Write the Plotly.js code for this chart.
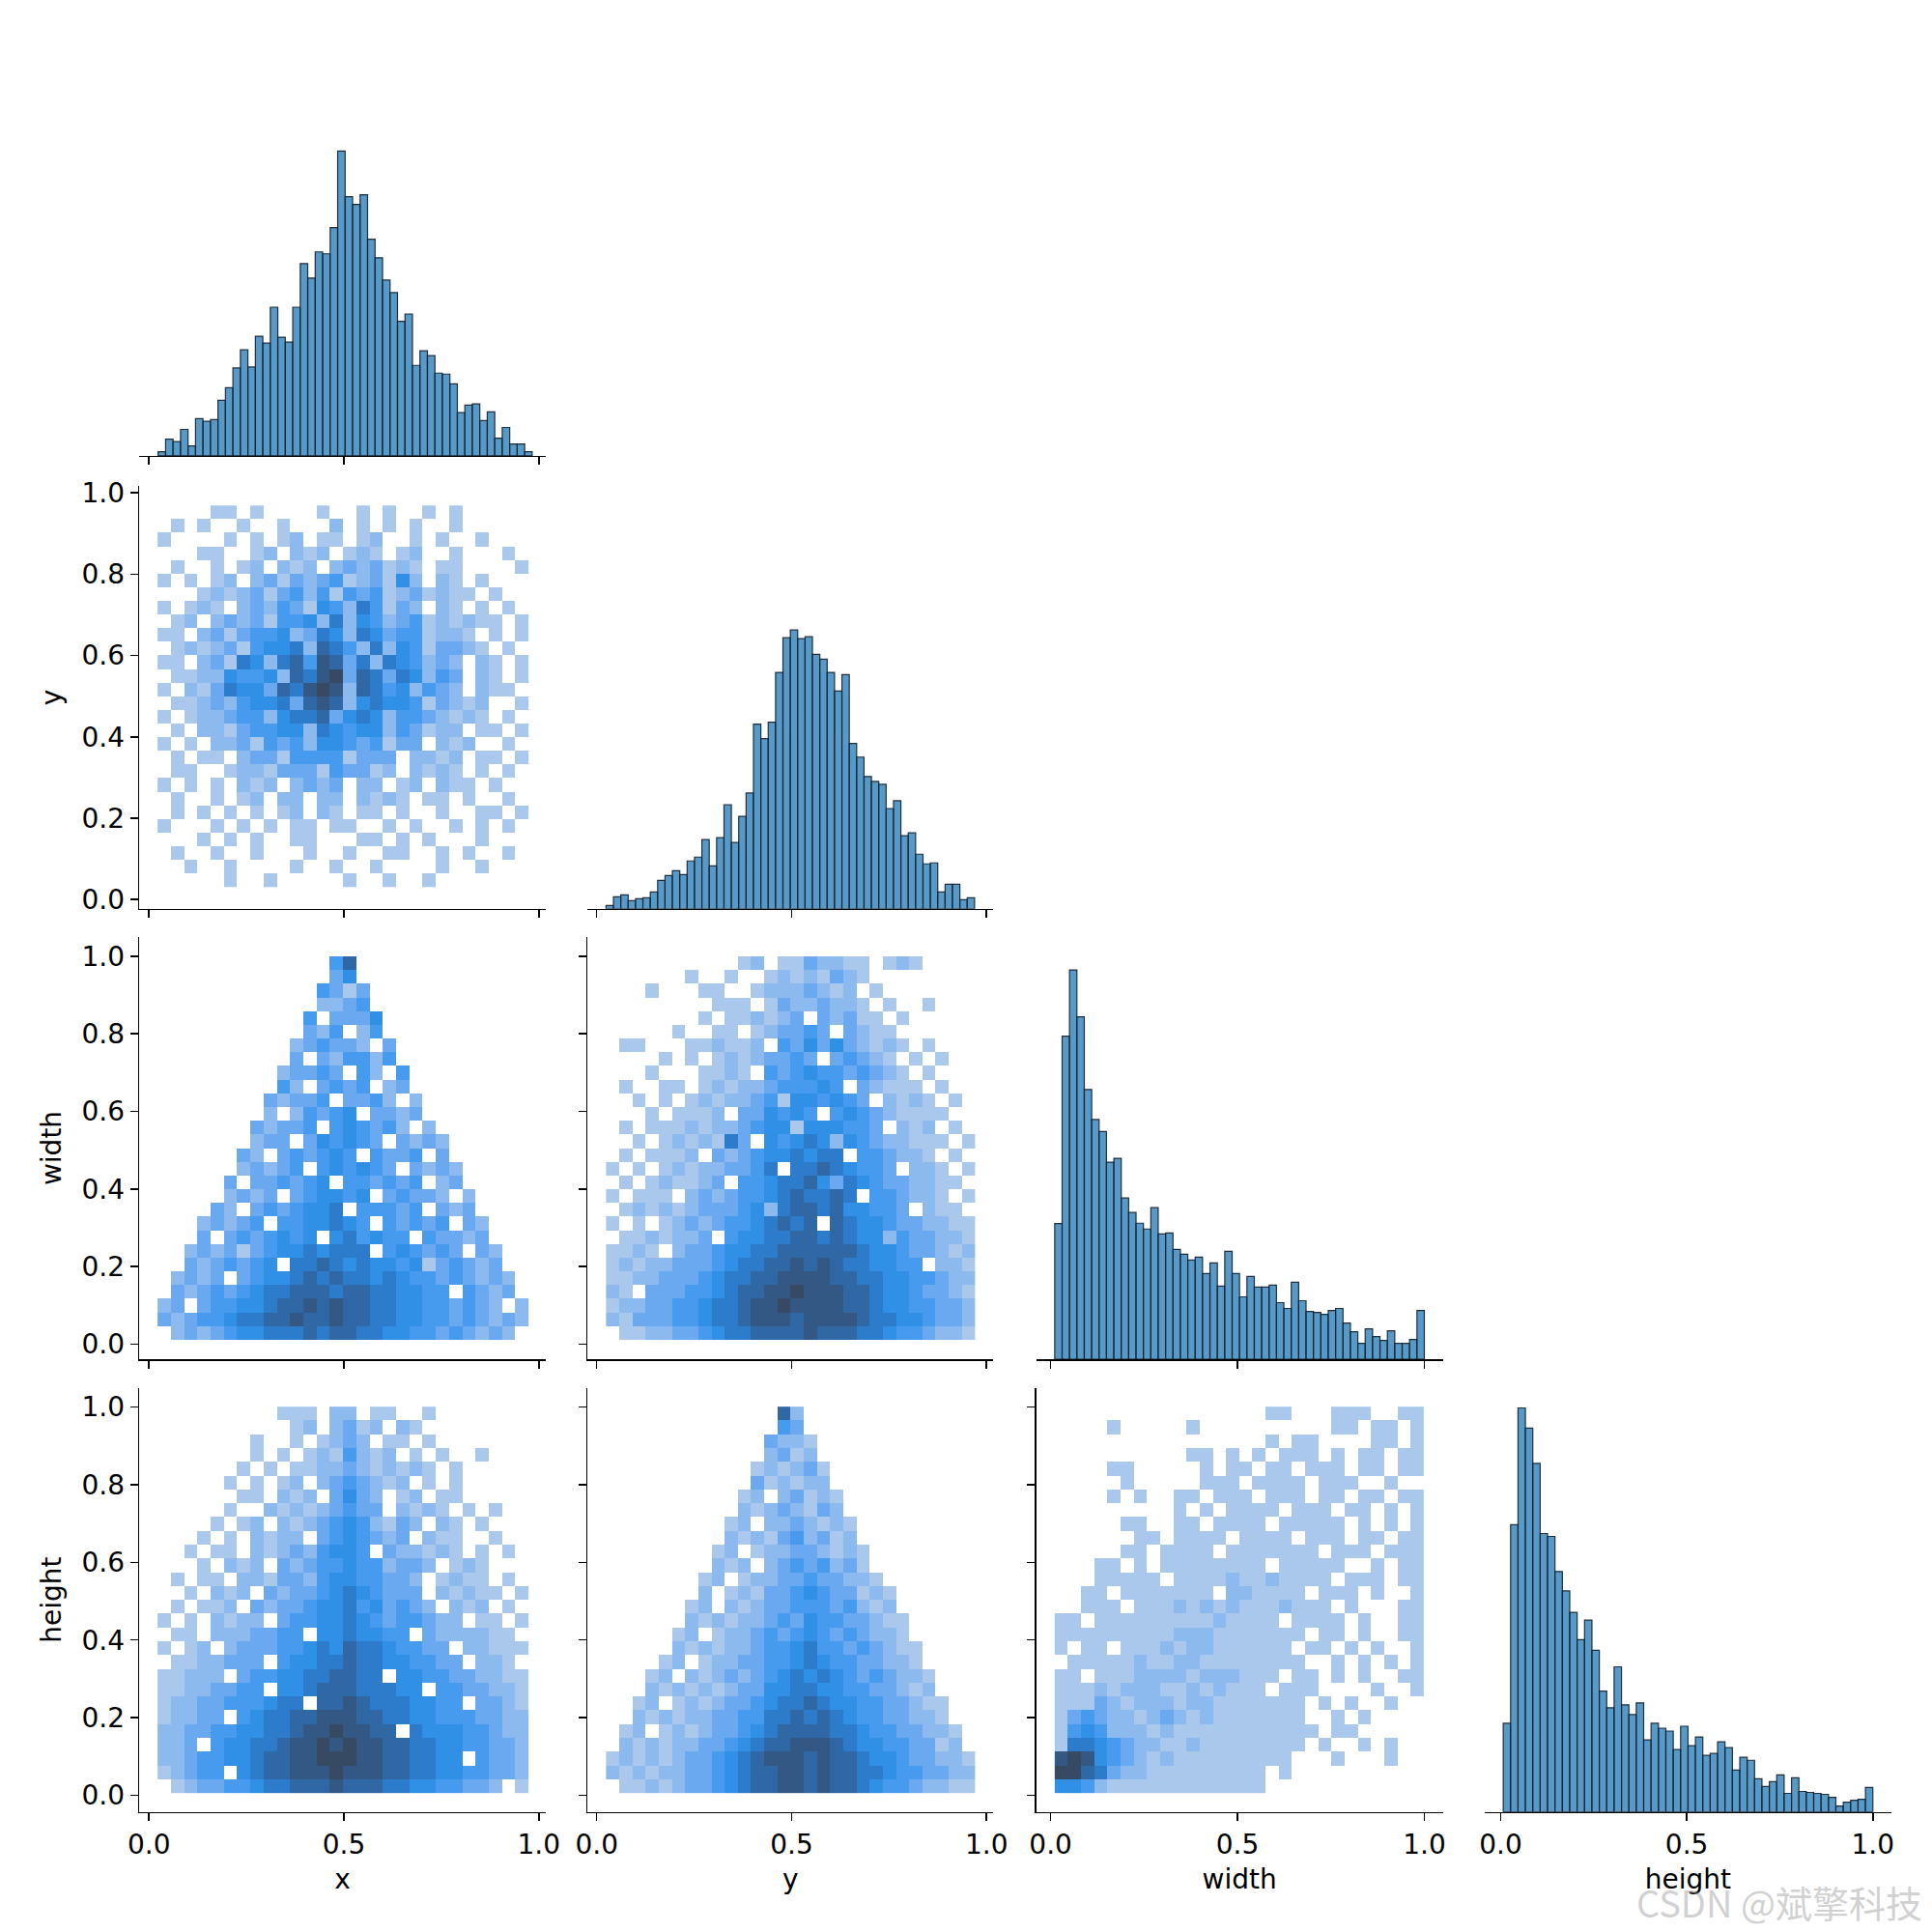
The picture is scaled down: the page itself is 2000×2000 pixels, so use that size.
<!DOCTYPE html>
<html>
<head>
<meta charset="utf-8">
<script src="https://cdn.plot.ly/plotly-3.0.1.min.js"></script>
<style>
html,body{margin:0;padding:0;background:#ffffff;}
#chart{width:2000px;height:2000px;}
</style>
</head>
<body>
<div id="chart"></div>
<script>
// ---------------- DATA ----------------
const variables = ['x', 'y', 'width', 'height'];

// diagonal histograms (bar heights, arbitrary count units)
const xCounts = [13,52,44,82,31,115,107,112,172,211,272,328,275,370,349,460,367,352,460,595,550,631,625,706,943,802,778,808,670,613,544,505,416,439,280,325,310,256,253,223,134,157,161,109,136,55,88,37,37,13];
const yCounts = [10,37,43,25,31,34,52,88,103,118,106,148,160,214,133,220,322,205,286,358,571,526,577,731,838,862,835,841,787,772,731,673,724,511,469,409,394,385,310,334,226,235,169,139,142,52,76,76,28,34];
const widthCounts = [420,1000,1205,1060,835,742,705,610,622,499,454,421,403,469,388,391,340,325,307,316,265,298,226,334,265,193,256,223,223,229,175,157,238,181,148,145,139,151,157,112,85,49,94,70,58,88,49,49,61,151];
const heightCounts = [273,885,1245,1183,1074,858,849,741,681,615,531,591,498,372,321,447,330,300,336,222,273,258,249,192,264,204,231,174,180,216,198,129,168,159,102,78,93,114,57,105,63,60,57,54,45,18,30,36,39,75];

// histogram bins (start, bin width)
const histBins = {
  x: {start: 0.0234, size: 0.01919},
  y: {start: 0.024, size: 0.01891},
  width: {start: 0.011, size: 0.01978},
  height: {start: 0.007, size: 0.01986}
};

// 2D histogram bins for each variable (start, cell size)
const gridBins = {
  x: {start: 0.022, size: 0.034},
  y: {start: 0.024, size: 0.0338},
  width: {start: 0.011, size: 0.0353},
  height: {start: 0.007, size: 0.0355}
};
const gridBinsYasRow = {start: 0.031, size: 0.0335};

// 2D histogram density levels (0 = empty, 1..9), rows listed from top to bottom
const xyLevels = [
"0000110100001001010010100000",
"0101001001000201010100100000",
"1000010101201101200101001000",
"0001100120212012101200100010",
"0100101202120232312101100001",
"1010120231323412315202101000",
"0001212313424143412312110100",
"1012102324315426413202101010",
"0120232314452625423412121101",
"1102313445236526534412210101",
"0121231455627642625413321010",
"1102316526748736265423202101",
"0112254452768937636524302101",
"1021365537689827645243202110",
"0112324556378725655413212001",
"1012234425667356524432121010",
"0102213445526545524312201101",
"1010223143425543413302120010",
"0101102331444413330221201101",
"0110012213331433120212101010",
"1010102120232302201202110100",
"0100101202202202121011010010",
"0101010101202101101001001101",
"1000101010110110010100101010",
"0001010100110001101010001000",
"0100100100010010011001010010",
"0010010000100100100001001000",
"0000010010000010010010000000"
];
const xWidthLevels = [
"0000000000000470000000000000",
"0000000000000350000000000000",
"0000000000004313000000000000",
"0000000000002234000000000000",
"0000000000040333500000000000",
"0000000000032402400000000000",
"0000000000234332030000000000",
"0000000000303244240000000000",
"0000000002334304204000000000",
"0000000004203434023000000000",
"0000000032334033420200000000",
"0000000020243450332300000000",
"0000000323340454342020000000",
"0000000233035454303232000000",
"0000003203434540433403000000",
"0000002323404545430323200000",
"0000030334345044343402300000",
"0000023230345545034332020000",
"0000320343455604443403230000",
"0002323404455654043434032000",
"0003034345450564544043323000",
"0023231345565666045434303200",
"0032343450667656554513432300",
"0232303455676766565443432320",
"0323434566777677665544043230",
"2303445567787877665544343202",
"3234456677877877665544343232",
"0232345566676776655443432320"
];
const yWidthLevels = [
"0000000000120113221101210000",
"0000001001001212132100000000",
"0001000110012223212010000000",
"0000000011101322322101001000",
"0000000101121230323110100000",
"0000010011012334303211000000",
"0110001121120435353212101000",
"0000101012123343034321010100",
"0001000112104345443432101000",
"0100110121223444540321110100",
"0010101212234155454302121010",
"0001011120335454045432111100",
"0101112122345515554430212010",
"0010121216305456525432211101",
"0101112032345565660443221010",
"1010121223346066765443022101",
"0101211230445667536543322110",
"1011102323445676676044322101",
"0121212333452677675544302110",
"1010123234456767076554332211",
"0112122304556677676552433221",
"1121023345566777777655433212",
"1212233345667787876655440221",
"1122333456677888877665544322",
"2103334456778898887765543321",
"1223344566788988887765544332",
"2133344566788878888766554332",
"0112233456677778777665443221"
];
const xHeightLevels = [
"0000000001110220110010000000",
"0000000000120231202100000000",
"0000000100101232011010000000",
"0000000101012142120101001000",
"0000001010112232121210100000",
"0000010101202343212010100000",
"0000001102120353201201100000",
"0000010021212343302121010100",
"0000101202123454213202101000",
"0001010212203454323021100100",
"0010110212324554032212101010",
"0001021203234454423320121000",
"0101102213324554433201211010",
"0010212032334565433302121101",
"0101120323345564534320212010",
"1010212203445565434432201101",
"0110222334405565544032222110",
"1012023334456576654433022111",
"0112233304556676655443302210",
"1122203445566776605544332211",
"1122334405567776665504433221",
"1223344456607787666554403321",
"1223304566778887766554443322",
"2233445566788988770655544322",
"2230455667889898877665544332",
"2234455677889998877665504332",
"1234405677888988877665544332",
"0123344566777877766554433201"
];
const yHeightLevels = [
"0000000000000720000000000000",
"0000000000000430000000000000",
"0000000000003221000000000000",
"0000000000002312000000000000",
"0000000000012123100000000000",
"0000000000031212200000000000",
"0000000000120231210000000000",
"0000000000212321320000000000",
"0000000001202232121000000000",
"0000000002121342312000000000",
"0000000012012233212100000000",
"0000000021202343423100000000",
"0000000120122334332210000000",
"0000000201213345433121000000",
"0000001202123344434212000000",
"0000002121223435443321100000",
"0000012012234345434322100000",
"0000021212234456443432110000",
"0000120122334456544332210000",
"0001202123234565654343221000",
"0002121212335566554433212000",
"0012012123345667655443321100",
"0021212233446676765443322100",
"0120121233456777766544332210",
"0212122334567788876554433120",
"1212123345678887877655433221",
"2121223345677887877665443322",
"0112123345677887877654432211"
];
const widthHeightLevels = [
"0000000000000000110001110011",
"0000100000100000000001101101",
"0000000000000000101100001101",
"0000000000110101011101011011",
"0000110000010110110111011011",
"0000010000011101111011100100",
"0000101001101110111011011011",
"0000000001010111101110110101",
"0000011001101111011111010101",
"0000001101111011110111011011",
"0000011011110111111101110111",
"0001101011111111011111001011",
"0001111101111211211110111011",
"0011011111110221111011101001",
"0011101112121211121110100011",
"1101111111112111101111010011",
"1111111112221111111011010011",
"1011011121221111110110101001",
"0111112112211111111001010101",
"1101112222122211101101010011",
"1112122211212111011100001001",
"1113212221221111111010100100",
"1343221232121111111001010000",
"1454222121111111111101100000",
"1665432211211111111010010100",
"8985432121111111110001000100",
"9976322111111111010000000000",
"5542111111111111000000000000"
];

// ---------------- STYLE / LAYOUT ----------------
const FONT = 'DejaVu Sans, Liberation Sans, sans-serif';
const TICK_SIZE = 28;
const colDom = [[0.07207,0.28253],[0.30421,0.51403],[0.53635,0.74681],[0.76849,0.97895]];
const rowDom = [[0.76403,0.98278],[0.52959,0.74847],[0.29649,0.51505],[0.06218,0.28170]];
const ranges = {x:[-0.025,1.018], y:[-0.023,1.017], width:[-0.0385,1.0495], height:[-0.0427,1.0497]};
const histCounts = {x:xCounts, y:yCounts, width:widthCounts, height:heightCounts};
const panels = {
  'x|y': xyLevels, 'x|width': xWidthLevels, 'y|width': yWidthLevels,
  'x|height': xHeightLevels, 'y|height': yHeightLevels, 'width|height': widthHeightLevels
};
const colorscale = [
  [0,'#a9c8ec'],[0.125,'#8cb9ee'],[0.25,'#6aa9ef'],[0.375,'#469bee'],[0.5,'#2f90e6'],
  [0.625,'#2d7ccb'],[0.75,'#2f68a5'],[0.875,'#335883'],[1,'#364a63']
];
const diagMax = Math.max(...[xCounts,yCounts,widthCounts,heightCounts].map(a=>Math.max(...a))) * 1.05;

const traces = [];
const layout = {
  width: 2000, height: 2000,
  margin: {l:0, r:0, t:0, b:0},
  paper_bgcolor: '#ffffff', plot_bgcolor: 'rgba(0,0,0,0)',
  showlegend: false, bargap: 0,
  font: {family: FONT, size: TICK_SIZE, color: '#000'},
  annotations: [{
    xref:'paper', yref:'paper', x: 1842/2000, y: 1 - 1968/2000,
    text: 'CSDN @斌擎科技', showarrow: false, xanchor:'center', yanchor:'middle',
    font: {family: 'Noto Sans CJK SC', size: 38, color: 'rgba(150,150,150,0.45)'}
  }]
};

function axisBase() {
  return {
    showline: true, linecolor: '#000', linewidth: 1.5,
    ticks: 'outside', ticklen: 8, tickwidth: 1.5, tickcolor: '#000',
    showgrid: false, zeroline: false, fixedrange: true,
    tickfont: {family: FONT, size: TICK_SIZE, color: '#000'},
    tickformat: '.1f'
  };
}

let k = 0;
for (let i = 0; i < 4; i++) {
  for (let j = 0; j <= i; j++) {
    k++;
    const xa = k === 1 ? 'x' : 'x' + k;
    const ya = k === 1 ? 'y' : 'y' + k;
    const vx = variables[j], vy = variables[i];
    if (i === j) {
      const b = histBins[vx];
      const counts = histCounts[vx];
      traces.push({
        type: 'bar', xaxis: xa, yaxis: ya,
        x: counts.map((c, n) => b.start + (n + 0.5) * b.size),
        y: counts, width: b.size,
        marker: {color: 'rgba(31,119,180,0.75)', line: {color: 'rgba(18,30,42,0.9)', width: 1.2}},
        hoverinfo: 'skip'
      });
    } else {
      const rows = panels[vx + '|' + vy];
      const xb = gridBins[vx];
      const yb = (vx === 'x' && vy === 'y') ? gridBinsYasRow : gridBins[vy];
      const ncol = 28;
      const z = rows.slice().reverse().map(r =>
        r.padEnd(ncol, '0').slice(0, ncol).split('').map(c => c === '0' ? null : +c));
      traces.push({
        type: 'heatmap', xaxis: xa, yaxis: ya, z: z,
        x0: xb.start + xb.size / 2, dx: xb.size,
        y0: yb.start + yb.size / 2, dy: yb.size,
        colorscale: colorscale, zmin: 1, zmax: 9, showscale: false,
        hoverinfo: 'skip', zsmooth: false
      });
    }
    const xAxis = Object.assign(axisBase(), {
      domain: colDom[j], anchor: ya, range: ranges[vx],
      tickvals: [0, 0.5, 1], showticklabels: i === 3
    });
    if (i === 3) {
      xAxis.title = {text: vx, font: {family: FONT, size: TICK_SIZE, color: '#000'}, standoff: 10};
    }
    let yAxis;
    if (i === j) {
      yAxis = {domain: rowDom[i], anchor: xa, range: [0, diagMax], visible: false, fixedrange: true};
    } else {
      yAxis = Object.assign(axisBase(), {
        domain: rowDom[i], anchor: xa, range: ranges[vy],
        tickvals: [0, 0.2, 0.4, 0.6, 0.8, 1.0], showticklabels: j === 0
      });
      if (j === 0) {
        yAxis.title = {text: vy, font: {family: FONT, size: TICK_SIZE, color: '#000'}, standoff: 12};
      }
    }
    layout[k === 1 ? 'xaxis' : 'xaxis' + k] = xAxis;
    layout[k === 1 ? 'yaxis' : 'yaxis' + k] = yAxis;
  }
}

Plotly.newPlot('chart', traces, layout, {displayModeBar: false, staticPlot: true});
</script>
</body>
</html>
